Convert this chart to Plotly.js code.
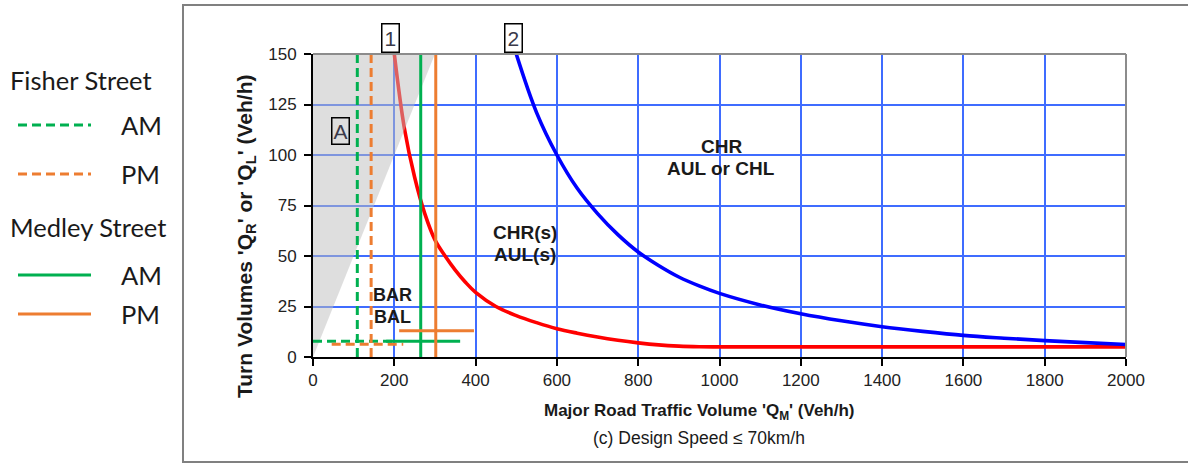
<!DOCTYPE html>
<html>
<head>
<meta charset="utf-8">
<script src="https://cdn.plot.ly/plotly-3.0.1.min.js"></script>
<style>
  html, body { margin: 0; padding: 0; background: #fff; }
  #chart { width: 1188px; height: 464px; }
</style>
</head>
<body>
<div id="chart"></div>
<script>
// ---------------- DATA ----------------
// Curve 1 (red) : boundary BAR/BAL vs CHR(s)/AUL(s)
const curve1X = [200, 225, 250, 275, 300, 325, 350, 375, 400, 450, 500, 550, 600, 650, 700, 750, 800, 850, 900, 950, 1000, 1200, 1400, 1600, 1800, 2000];
const curve1Y = [150, 113, 89, 71, 58, 50, 43, 37, 32, 25, 20.5, 17, 14, 11.8, 9.9, 8.3, 7, 6, 5.4, 5.1, 5, 5, 5, 5, 5, 5];
// Curve 2 (blue) : boundary CHR(s)/AUL(s) vs CHR / AUL or CHL
const curve2X = [500, 550, 600, 650, 700, 750, 800, 850, 900, 950, 1000, 1100, 1200, 1300, 1400, 1500, 1600, 1700, 1800, 1900, 2000];
const curve2Y = [150, 121, 100, 83.5, 71, 60.6, 52, 45.3, 39.6, 35.2, 31.5, 25.8, 21.4, 17.9, 15, 12.7, 10.7, 9.3, 8.1, 7.1, 6.2];
// Shaded region A
const regionAX = [0, 300, 0, 0];
const regionAY = [0, 150, 150, 0];

// Intersection traffic volumes
const seriesNames  = ["Fisher Street AM", "Fisher Street PM", "Medley Street AM", "Medley Street PM"];
const majorVolume  = [109, 143, 265, 302];   // Q_M (veh/h)
const turnVolume   = [7.8, 6.3, 7.8, 13];    // Q_R / Q_L (veh/h)
const hLineStart   = [0, 46, 180, 212];
const hLineEnd     = [200, 222, 362, 396];
const seriesColor  = ["#00b050", "#ed7d31", "#00b050", "#ed7d31"];
const seriesDash   = ["9px,5px", "9px,5px", "solid", "solid"];

const xTicks = [0, 200, 400, 600, 800, 1000, 1200, 1400, 1600, 1800, 2000];
const yTicks = [0, 25, 50, 75, 100, 125, 150];

// ---------------- LAYOUT HELPERS ----------------
const W = 1188, H = 464, ML = 313, MR = 62, MT = 54, MB = 107;
const PW = W - ML - MR, PH = H - MT - MB;
const PX = x => (x - ML) / PW;          // pixel -> paper x
const PY = y => (H - MB - y) / PH;      // pixel -> paper y

const traces = [];
traces.push({x: curve1X, y: curve1Y, mode: 'lines', line: {color: '#ff0000', width: 3.6, shape: 'spline', smoothing: 1}, hoverinfo: 'skip'});
traces.push({x: curve2X, y: curve2Y, mode: 'lines', line: {color: '#0000ff', width: 3.6, shape: 'spline', smoothing: 1}, hoverinfo: 'skip'});
traces.push({x: regionAX, y: regionAY, mode: 'lines', fill: 'toself', fillcolor: 'rgba(190,190,190,0.5)', line: {width: 0}, hoverinfo: 'skip'});
for (let i = 0; i < seriesNames.length; i++) {
  traces.push({
    name: seriesNames[i],
    x: [majorVolume[i], majorVolume[i], null, hLineStart[i], hLineEnd[i]],
    y: [0, 150, null, turnVolume[i], turnVolume[i]],
    mode: 'lines',
    line: {color: seriesColor[i], width: 3, dash: seriesDash[i]},
    hoverinfo: 'skip'
  });
}

const shapes = [];
// white backgrounds behind region labels (between grid and traces)
function bgBox(x0, y0, x1, y1) {
  shapes.push({type: 'rect', xref: 'paper', yref: 'paper', x0: PX(x0), x1: PX(x1), y0: PY(y1), y1: PY(y0),
    fillcolor: '#ffffff', line: {width: 0}, layer: 'between'});
}
bgBox(666, 128, 776, 170);
bgBox(490, 218, 558, 266);
bgBox(367, 277, 416, 330);
// top & right plot borders (gray)
shapes.push({type: 'line', xref: 'paper', yref: 'paper', x0: 0, x1: 1, y0: 1, y1: 1, line: {color: '#8c8c8c', width: 2}});
shapes.push({type: 'line', xref: 'paper', yref: 'paper', x0: 1, x1: 1, y0: 0, y1: 1, line: {color: '#8c8c8c', width: 2}});
// outer frame
shapes.push({type: 'rect', xref: 'paper', yref: 'paper', x0: PX(183), x1: PX(1195), y0: PY(462), y1: PY(5),
  line: {color: '#808080', width: 2}, fillcolor: 'rgba(0,0,0,0)'});

// custom legend on the left
const legendRows = [125, 174, 275, 314];
const legendLabels = ["AM", "PM", "AM", "PM"];
const legendFont = {family: 'Lato, Carlito, sans-serif', size: 25.5, color: '#1a1a1a'};
const annotations = [];
for (let i = 0; i < 4; i++) {
  shapes.push({type: 'line', xref: 'paper', yref: 'paper', x0: PX(18), x1: PX(91), y0: PY(legendRows[i]), y1: PY(legendRows[i]),
    line: {color: seriesColor[i], width: 3, dash: seriesDash[i]}});
  annotations.push({xref: 'paper', yref: 'paper', x: PX(119), y: PY(legendRows[i]), xanchor: 'left', yanchor: 'middle',
    text: legendLabels[i], showarrow: false, font: legendFont});
}
const groupTitles = ["Fisher Street", "Medley Street"];
const groupRows = [80, 227];
for (let i = 0; i < 2; i++) {
  annotations.push({xref: 'paper', yref: 'paper', x: PX(8), y: PY(groupRows[i]), xanchor: 'left', yanchor: 'middle',
    text: groupTitles[i], showarrow: false, font: legendFont});
}

// text helper (pixel placement)
const SANS = 'Liberation Sans, Arial, sans-serif';
function label(text, x, y, size, bold, extra) {
  annotations.push(Object.assign({xref: 'paper', yref: 'paper', x: PX(x), y: PY(y), xanchor: 'center', yanchor: 'middle',
    text: bold ? '<b>' + text + '</b>' : text, showarrow: false,
    font: {family: SANS, size: size, color: '#1a1a1a'}}, extra || {}));
}
label('CHR', 721, 146, 19, true);
label('AUL or CHL', 721, 168, 19, true);
label('CHR(s)', 525, 232, 19, true);
label('AUL(s)', 525, 255, 19, true);
label('BAR', 392, 295, 18, true);
label('BAL', 392, 317, 18, true);
// boxed labels
const boxFont = {family: SANS, size: 21, color: '#3a3a4a'};
annotations.push({xref: 'paper', yref: 'paper', x: PX(390), y: PY(53), xanchor: 'center', yanchor: 'bottom', text: '1', showarrow: false,
  font: boxFont, bordercolor: '#000', borderwidth: 1.5, borderpad: 2, bgcolor: '#fff'});
annotations.push({xref: 'paper', yref: 'paper', x: PX(513), y: PY(53), xanchor: 'center', yanchor: 'bottom', text: '2', showarrow: false,
  font: boxFont, bordercolor: '#000', borderwidth: 1.5, borderpad: 2, bgcolor: '#fff'});
annotations.push({xref: 'paper', yref: 'paper', x: PX(340), y: PY(131), xanchor: 'center', yanchor: 'middle', text: 'A', showarrow: false,
  font: boxFont, bordercolor: '#000', borderwidth: 1.5, borderpad: 1});
// axis titles & caption
label("Turn Volumes 'Q<sub>R</sub>' or 'Q<sub>L</sub>' (Veh/h)", 246, 236, 21, true, {textangle: -90});
label("Major Road Traffic Volume 'Q<sub>M</sub>' (Veh/h)", 699, 412, 17, true);
label("(c) Design Speed ≤ 70km/h", 699, 438, 17.5, false);

const axisCommon = {
  showgrid: true, gridcolor: '#3f6cff', gridwidth: 2,
  showline: true, linecolor: '#000', linewidth: 2,
  ticks: 'outside', ticklen: 7, tickwidth: 2, tickcolor: '#000',
  tickfont: {family: SANS, size: 17, color: '#222'},
  zeroline: false, fixedrange: true
};

const layout = {
  width: W, height: H,
  margin: {l: ML, r: MR, t: MT, b: MB, pad: 0},
  paper_bgcolor: '#fff', plot_bgcolor: '#fff',
  showlegend: false,
  xaxis: Object.assign({}, axisCommon, {range: [0, 2000], tickvals: xTicks, ticktext: xTicks.map(String)}),
  yaxis: Object.assign({}, axisCommon, {range: [0, 150], tickvals: yTicks, ticktext: yTicks.map(String), ticklabelstandoff: 4}),
  shapes: shapes,
  annotations: annotations
};

Plotly.newPlot('chart', traces, layout, {staticPlot: true, displayModeBar: false});
</script>
</body>
</html>
